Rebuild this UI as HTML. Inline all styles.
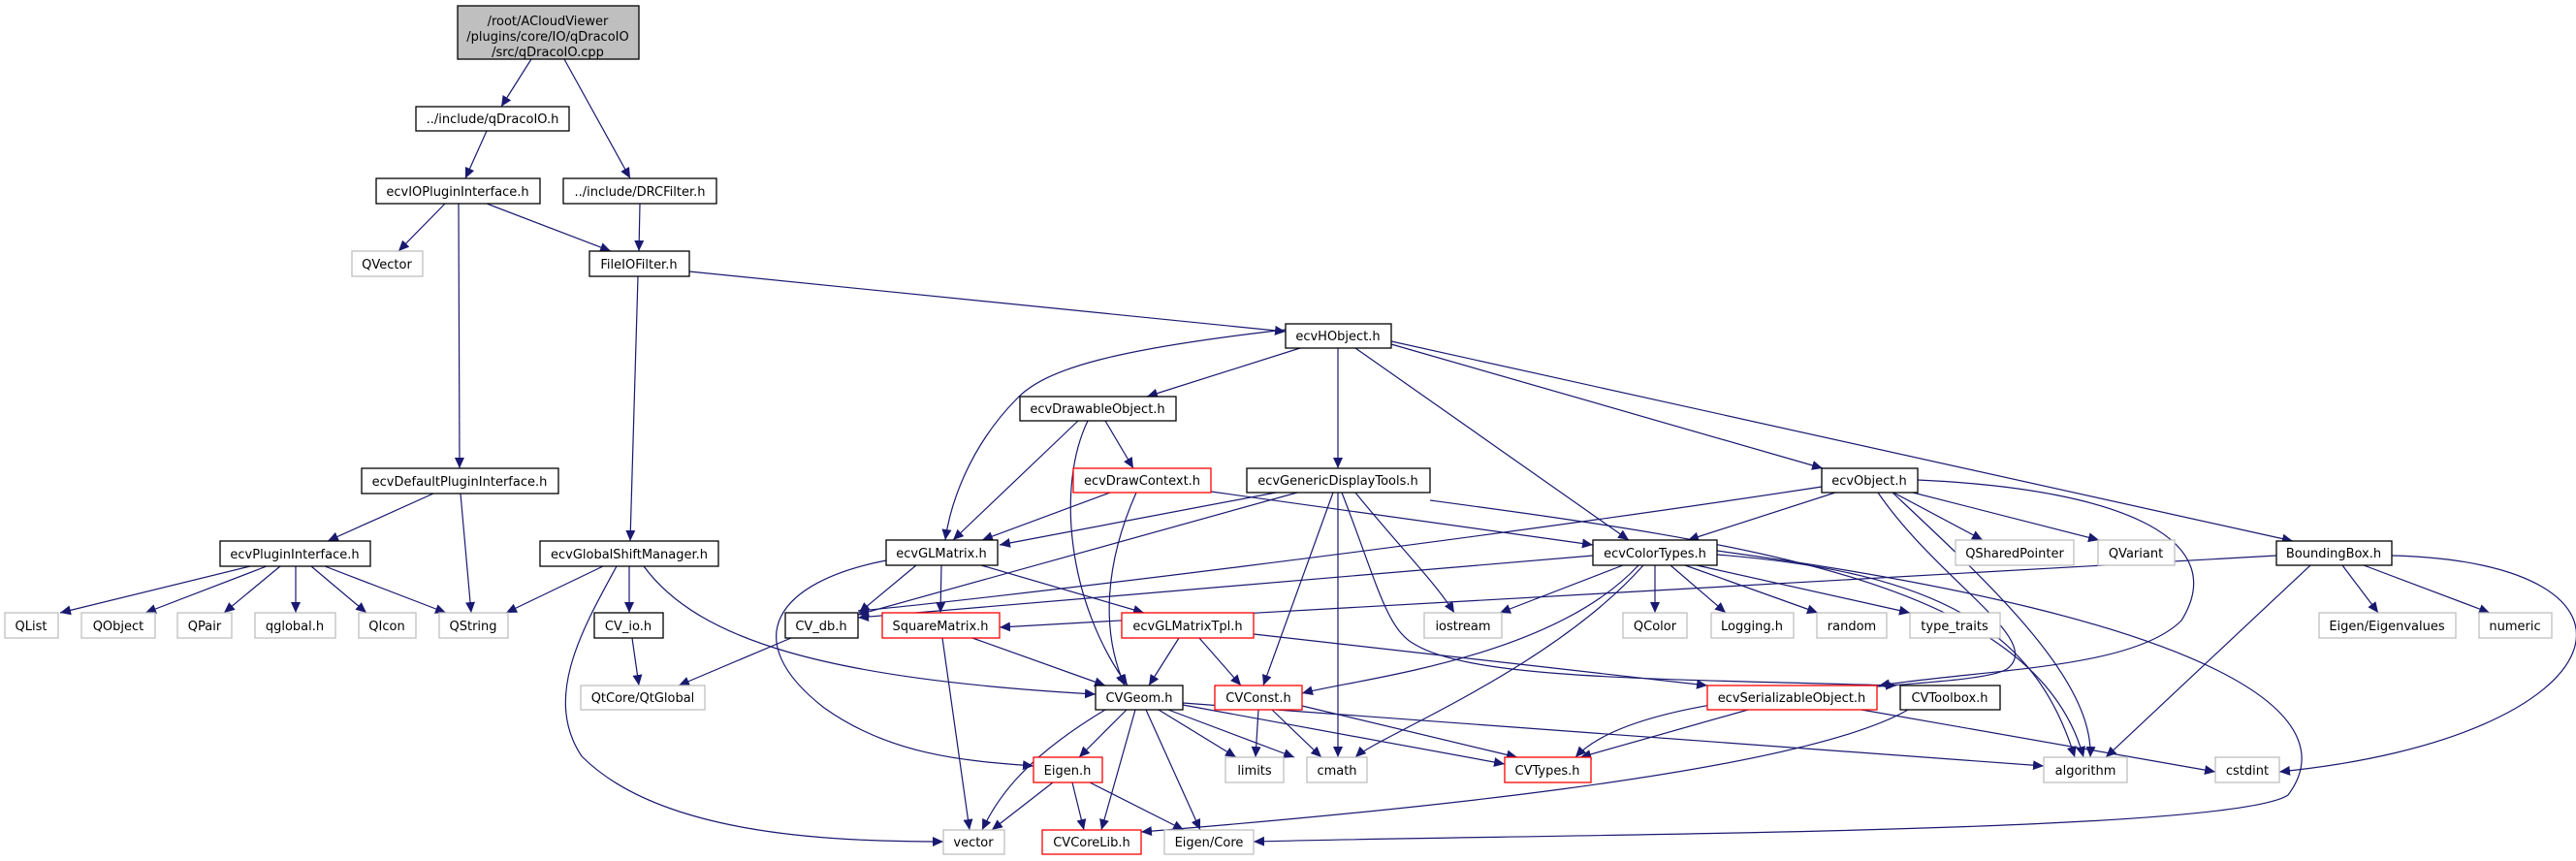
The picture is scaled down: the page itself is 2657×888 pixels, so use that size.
<!DOCTYPE html>
<html><head><meta charset="utf-8"><style>
html,body{margin:0;padding:0;background:#fff;}
svg{display:block;}
text{font-family:"DejaVu Sans","Liberation Sans",sans-serif;font-size:13px;fill:#000;text-anchor:middle;}
.b{fill:#fff;stroke:#000;stroke-width:1.3;}
.g{fill:#fff;stroke:#bfbfbf;stroke-width:1.3;}
.r{fill:#fff;stroke:#ff0000;stroke-width:1.3;}
.e{fill:none;stroke:#191970;stroke-width:1.2;marker-end:url(#a);}
</style></head><body>
<svg width="2657" height="888" viewBox="0 0 2657 888" xmlns="http://www.w3.org/2000/svg">
<defs><marker id="a" markerUnits="userSpaceOnUse" markerWidth="12" markerHeight="10" refX="11" refY="5" orient="auto"><path d="M0,0 L11,5 L0,10 Z" fill="#191970"/></marker></defs>
<g>
<path class="e" d="M548,61 L517,110"/>
<path class="e" d="M582,61 L650,184"/>
<path class="e" d="M502,135 L480,184"/>
<path class="e" d="M459,210 L411,259"/>
<path class="e" d="M502,210 L630,259"/>
<path class="e" d="M473,210 L474,483"/>
<path class="e" d="M660,210 L659,259"/>
<path class="e" d="M711,280 L1326,342"/>
<path class="e" d="M658,285 L650,558"/>
<path class="e" d="M447,509 L338,558"/>
<path class="e" d="M475,509 L486,632"/>
<path class="e" d="M258,584 L62,632"/>
<path class="e" d="M275,584 L150,632"/>
<path class="e" d="M289,584 L231,632"/>
<path class="e" d="M305,584 L305,632"/>
<path class="e" d="M321,584 L378,632"/>
<path class="e" d="M335,584 L460,632"/>
<path class="e" d="M622,584 L522,632"/>
<path class="e" d="M649,584 L649,632"/>
<path class="e" d="M636,584 C600,650 560,720 600,780 C680,860 850,868 973,868"/>
<path class="e" d="M664,584 C720,660 850,700 1130,716"/>
<path class="e" d="M652,658 L659,707"/>
<path class="e" d="M816,658 L700,707"/>
<path class="e" d="M1326,340 C1150,360 1080,380 1050,410 C1000,460 980,520 975,557"/>
<path class="e" d="M1341,359 L1183,409"/>
<path class="e" d="M1380,359 L1380,483"/>
<path class="e" d="M1398,359 L1680,557"/>
<path class="e" d="M1435,355 L1880,483"/>
<path class="e" d="M1435,352 L2365,558"/>
<path class="e" d="M1112,434 L983,557"/>
<path class="e" d="M1122,434 C1090,500 1100,620 1163,707"/>
<path class="e" d="M1140,434 L1169,483"/>
<path class="e" d="M1145,508 L1013,557"/>
<path class="e" d="M1172,508 C1140,580 1135,650 1160,707"/>
<path class="e" d="M1249,507 L1643,562"/>
<path class="e" d="M1316,508 L1031,562"/>
<path class="e" d="M1338,508 L885,634"/>
<path class="e" d="M1375,508 L1303,707"/>
<path class="e" d="M1380,508 L1380,781"/>
<path class="e" d="M1398,508 C1440,560 1480,600 1500,632"/>
<path class="e" d="M1384,508 C1420,600 1430,650 1460,665 C1520,700 1700,700 1956,707"/>
<path class="e" d="M1475,516 C1800,560 2100,600 2149,781"/>
<path class="e" d="M1879,502 C1500,560 1000,620 885,630"/>
<path class="e" d="M1893,508 L1741,557"/>
<path class="e" d="M1937,508 C2000,600 2110,660 2070,690 C2030,715 1700,700 1625,781"/>
<path class="e" d="M1952,508 C2050,600 2160,700 2156,781"/>
<path class="e" d="M1953,508 L2045,557"/>
<path class="e" d="M1973,508 L2165,557"/>
<path class="e" d="M1978,495 C2200,505 2300,560 2250,640 C2200,690 2050,690 1938,707"/>
<path class="e" d="M1643,573 L885,637"/>
<path class="e" d="M1674,583 L1547,632"/>
<path class="e" d="M1707,583 L1707,632"/>
<path class="e" d="M1723,583 L1780,632"/>
<path class="e" d="M1738,583 L1875,632"/>
<path class="e" d="M1750,583 L1970,632"/>
<path class="e" d="M1690,583 C1600,680 1400,700 1343,715"/>
<path class="e" d="M1695,583 C1600,690 1420,760 1398,781"/>
<path class="e" d="M1771,572 C2000,590 2100,650 2140,781"/>
<path class="e" d="M1771,568 C2300,640 2420,740 2360,820 C2300,860 1600,860 1293,868"/>
<path class="e" d="M945,583 L886,632"/>
<path class="e" d="M971,583 L970,632"/>
<path class="e" d="M1012,583 L1180,632"/>
<path class="e" d="M914,578 C800,600 760,660 850,730 C920,780 1000,785 1066,790"/>
<path class="e" d="M1003,658 L1140,707"/>
<path class="e" d="M972,658 L1000,856"/>
<path class="e" d="M1216,658 L1185,707"/>
<path class="e" d="M1237,658 L1280,707"/>
<path class="e" d="M1293,654 L1761,707"/>
<path class="e" d="M1162,732 L1113,781"/>
<path class="e" d="M1140,732 C1060,780 1030,820 1013,856"/>
<path class="e" d="M1171,732 L1136,856"/>
<path class="e" d="M1182,732 L1238,856"/>
<path class="e" d="M1195,732 L1275,781"/>
<path class="e" d="M1205,732 L1335,781"/>
<path class="e" d="M1220,727 L1552,788"/>
<path class="e" d="M1220,725 L2108,790"/>
<path class="e" d="M1298,732 L1295,781"/>
<path class="e" d="M1312,732 L1363,781"/>
<path class="e" d="M1343,728 L1565,781"/>
<path class="e" d="M1086,807 L1023,856"/>
<path class="e" d="M1106,807 L1118,856"/>
<path class="e" d="M1124,807 L1221,856"/>
<path class="e" d="M1803,732 L1630,781"/>
<path class="e" d="M1920,732 L2285,796"/>
<path class="e" d="M1968,732 C1850,800 1400,840 1177,858"/>
<path class="e" d="M2348,573 L1031,647"/>
<path class="e" d="M2383,583 L2172,781"/>
<path class="e" d="M2416,583 L2453,632"/>
<path class="e" d="M2438,583 L2568,632"/>
<path class="e" d="M2467,573 C2760,580 2710,760 2351,796"/>
</g>
<g>
<rect x="472" y="6" width="187" height="55" style="fill:#bfbfbf;stroke:#000;stroke-width:1.3"/>
<text x="565" y="26">/root/ACloudViewer</text>
<text x="565" y="42">/plugins/core/IO/qDracoIO</text>
<text x="565" y="58">/src/qDracoIO.cpp</text>

<rect class="b" x="429" y="110" width="158" height="25"/><text x="508" y="127">../include/qDracoIO.h</text>
<rect class="b" x="388" y="184" width="169" height="26"/><text x="472" y="202">ecvIOPluginInterface.h</text>
<rect class="b" x="581" y="184" width="158" height="26"/><text x="660" y="202">../include/DRCFilter.h</text>
<rect class="g" x="363" y="259" width="73" height="26"/><text x="399" y="277">QVector</text>
<rect class="b" x="608" y="259" width="103" height="26"/><text x="659" y="277">FileIOFilter.h</text>
<rect class="b" x="1326" y="334" width="109" height="25"/><text x="1380" y="351">ecvHObject.h</text>
<rect class="b" x="1052" y="409" width="161" height="25"/><text x="1132" y="426">ecvDrawableObject.h</text>
<rect class="b" x="373" y="483" width="203" height="26"/><text x="474" y="501">ecvDefaultPluginInterface.h</text>
<rect class="r" x="1107" y="483" width="142" height="25"/><text x="1178" y="500">ecvDrawContext.h</text>
<rect class="b" x="1286" y="483" width="189" height="25"/><text x="1380" y="500">ecvGenericDisplayTools.h</text>
<rect class="b" x="1879" y="483" width="99" height="25"/><text x="1928" y="500">ecvObject.h</text>
<rect class="b" x="227" y="558" width="155" height="26"/><text x="304" y="576">ecvPluginInterface.h</text>
<rect class="b" x="557" y="558" width="184" height="26"/><text x="649" y="576">ecvGlobalShiftManager.h</text>
<rect class="b" x="914" y="557" width="115" height="26"/><text x="971" y="575">ecvGLMatrix.h</text>
<rect class="b" x="1643" y="557" width="128" height="26"/><text x="1707" y="575">ecvColorTypes.h</text>
<rect class="g" x="2017" y="557" width="122" height="26"/><text x="2078" y="575">QSharedPointer</text>
<rect class="g" x="2164" y="557" width="79" height="26"/><text x="2203" y="575">QVariant</text>
<rect class="b" x="2348" y="558" width="119" height="25"/><text x="2407" y="575">BoundingBox.h</text>

<rect class="g" x="5" y="632" width="55" height="26"/><text x="32" y="650">QList</text>
<rect class="g" x="84" y="632" width="76" height="26"/><text x="122" y="650">QObject</text>
<rect class="g" x="183" y="632" width="56" height="26"/><text x="211" y="650">QPair</text>
<rect class="g" x="263" y="632" width="83" height="26"/><text x="304" y="650">qglobal.h</text>
<rect class="g" x="370" y="632" width="59" height="26"/><text x="399" y="650">QIcon</text>
<rect class="g" x="453" y="632" width="71" height="26"/><text x="488" y="650">QString</text>
<rect class="b" x="613" y="632" width="71" height="26"/><text x="648" y="650">CV_io.h</text>
<rect class="b" x="810" y="632" width="75" height="26"/><text x="847" y="650">CV_db.h</text>
<rect class="r" x="910" y="632" width="121" height="26"/><text x="970" y="650">SquareMatrix.h</text>
<rect class="r" x="1157" y="632" width="136" height="26"/><text x="1225" y="650">ecvGLMatrixTpl.h</text>
<rect class="g" x="1469" y="632" width="80" height="26"/><text x="1509" y="650">iostream</text>
<rect class="g" x="1674" y="632" width="66" height="26"/><text x="1707" y="650">QColor</text>
<rect class="g" x="1765" y="632" width="85" height="26"/><text x="1807" y="650">Logging.h</text>
<rect class="g" x="1874" y="632" width="72" height="26"/><text x="1910" y="650">random</text>
<rect class="g" x="1970" y="632" width="93" height="26"/><text x="2016" y="650">type_traits</text>
<rect class="g" x="2392" y="632" width="141" height="26"/><text x="2462" y="650">Eigen/Eigenvalues</text>
<rect class="g" x="2557" y="632" width="75" height="26"/><text x="2594" y="650">numeric</text>

<rect class="g" x="599" y="707" width="128" height="25"/><text x="663" y="724">QtCore/QtGlobal</text>
<rect class="b" x="1130" y="707" width="90" height="25"/><text x="1175" y="724">CVGeom.h</text>
<rect class="r" x="1253" y="707" width="90" height="25"/><text x="1298" y="724">CVConst.h</text>
<rect class="r" x="1761" y="707" width="175" height="25"/><text x="1848" y="724">ecvSerializableObject.h</text>
<rect class="b" x="1960" y="707" width="103" height="25"/><text x="2011" y="724">CVToolbox.h</text>

<rect class="r" x="1066" y="781" width="71" height="26"/><text x="1101" y="799">Eigen.h</text>
<rect class="g" x="1264" y="781" width="60" height="26"/><text x="1294" y="799">limits</text>
<rect class="g" x="1348" y="781" width="62" height="26"/><text x="1379" y="799">cmath</text>
<rect class="r" x="1552" y="781" width="89" height="26"/><text x="1596" y="799">CVTypes.h</text>
<rect class="g" x="2108" y="781" width="86" height="26"/><text x="2151" y="799">algorithm</text>
<rect class="g" x="2285" y="781" width="66" height="26"/><text x="2318" y="799">cstdint</text>

<rect class="g" x="973" y="856" width="63" height="25"/><text x="1004" y="873">vector</text>
<rect class="r" x="1075" y="856" width="102" height="25"/><text x="1126" y="873">CVCoreLib.h</text>
<rect class="g" x="1201" y="856" width="92" height="25"/><text x="1247" y="873">Eigen/Core</text>
</g>
</svg>
</body></html>
